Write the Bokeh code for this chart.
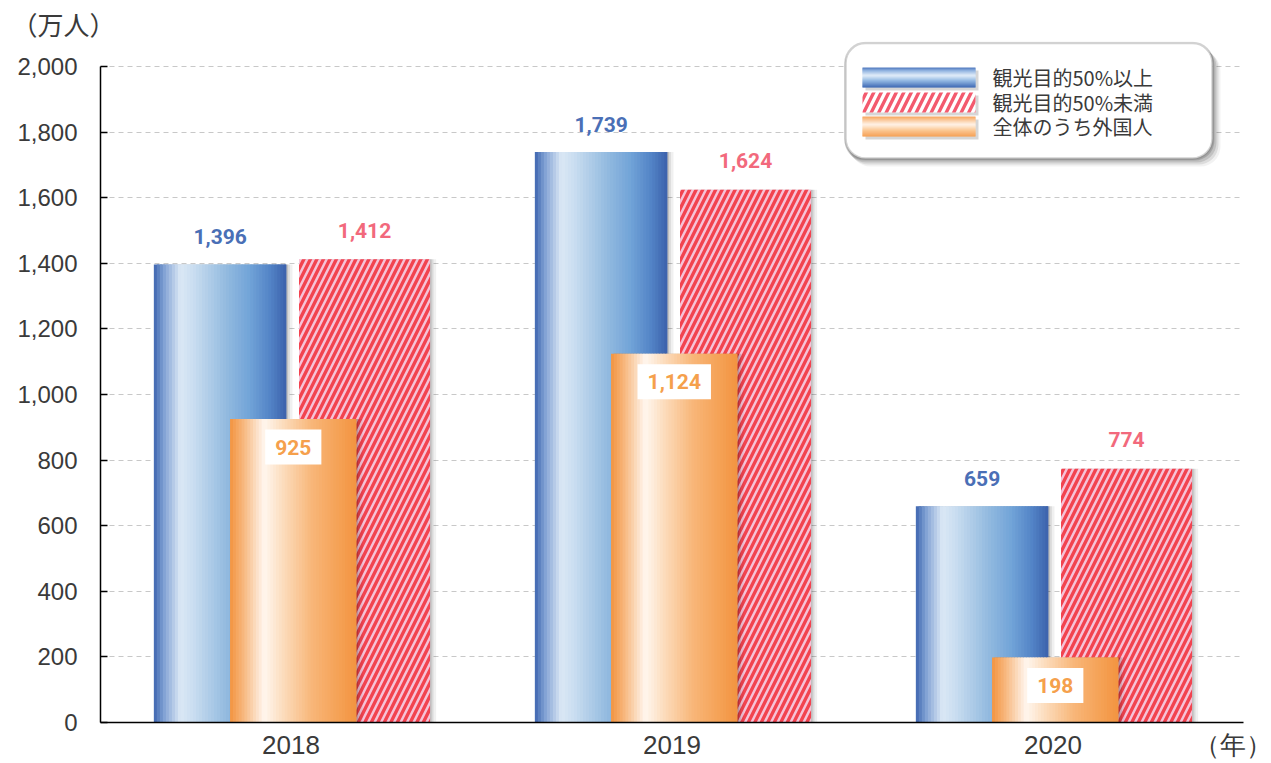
from bokeh.plotting import figure
from bokeh.models import (ColumnDataSource, Range1d, FixedTicker, NumeralTickFormatter,
                          BoxAnnotation, Label, Title)
from bokeh.transform import dodge
from bokeh.core.properties import value
from bokeh.embed import file_html
from bokeh.resources import INLINE

# ---------------- data ----------------
years = ["2018", "2019", "2020"]
tourism_50_plus = [1396, 1739, 659]      # 観光目的50%以上
tourism_50_minus = [1412, 1624, 774]     # 観光目的50%未満
foreigners = [925, 1124, 198]            # 全体のうち外国人
series_names = ["観光目的50%以上", "観光目的50%未満", "全体のうち外国人"]
y_ticks = [0, 200, 400, 600, 800, 1000, 1200, 1400, 1600, 1800, 2000]
y_unit = "（万人）"
x_unit = "（年）"

# ---------------- styles ----------------
BLUE_STOPS = [(0.0, "#3e65af"), (0.07, "#7c9ed2"), (0.2, "#dbe8f5"), (0.3, "#c9ddf0"),
              (0.55, "#92badf"), (0.72, "#72a4d8"), (0.88, "#5283c6"), (1.0, "#3c61ac")]
ORANGE_STOPS = [(0.0, "#f39440"), (0.1, "#f7b57a"), (0.27, "#fff6ef"), (0.42, "#fcdcbc"),
                (0.65, "#f8b678"), (0.85, "#f5a257"), (1.0, "#f39440")]
BLUE_V_STOPS = [(0.0, "#4a73bb"), (0.15, "#8fb2e0"), (0.4, "#e3eef9"), (0.65, "#94bae4"),
                (1.0, "#3f68b3")]
ORANGE_V_STOPS = [(0.0, "#f6a35a"), (0.15, "#fac493"), (0.4, "#fff3e8"), (0.7, "#fbc690"),
                  (1.0, "#f6a056")]
RED_BG = "#f6c3d8"
RED_HATCH = "#f2434f"
BLUE_TXT = "#4a6fb6"
RED_TXT = "#f2697c"
ORANGE_TXT = "#f5a04c"
TXT = "#3a3a3a"

# pixel layout of the frame
FRAME_L, FRAME_R, FRAME_T, FRAME_B = 100, 1243, 41, 722
PX_2000 = 66                                   # pixel row of the 2,000 gridline
Y_TOP = 2000 * (FRAME_B - FRAME_T) / (FRAME_B - PX_2000)


def _rgb(h):
    return tuple(int(h[i:i + 2], 16) for i in (1, 3, 5))


def grad(stops, t):
    for (t0, c0), (t1, c1) in zip(stops, stops[1:]):
        if t0 <= t <= t1:
            f = (t - t0) / (t1 - t0) if t1 > t0 else 0.0
            a, b = _rgb(c0), _rgb(c1)
            return "#%02x%02x%02x" % tuple(round(a[j] + (b[j] - a[j]) * f) for j in range(3))
    return stops[-1][1]


x_pos = [i + 0.5 for i in range(len(years))]
src = ColumnDataSource(dict(
    x=x_pos,
    year=years,
    plus=tourism_50_plus,
    minus=tourism_50_minus,
    foreign=foreigners,
    plus_txt=[f"{v:,}" for v in tourism_50_plus],
    minus_txt=[f"{v:,}" for v in tourism_50_minus],
    foreign_txt=[f"{v:,}" for v in foreigners],
))

W, H = 1271, 762
p = figure(x_range=Range1d(0, len(years)), y_range=Range1d(0, Y_TOP),
           width=W, height=H, output_backend="svg", toolbar_location=None,
           min_border_left=FRAME_L, min_border_right=W - FRAME_R,
           min_border_top=FRAME_T, min_border_bottom=H - FRAME_B)
p.background_fill_color = "white"
p.border_fill_color = "white"
p.outline_line_color = None

# y axis
p.yaxis.ticker = FixedTicker(ticks=y_ticks)
p.yaxis.bounds = (0, 2000)
p.yaxis.formatter = NumeralTickFormatter(format="0,0")
p.yaxis.major_label_text_font = "Liberation Sans"
p.yaxis.major_label_text_font_size = "24px"
p.yaxis.major_label_text_color = TXT
p.yaxis.major_label_standoff = 23
p.yaxis.major_tick_in = 7
p.yaxis.major_tick_out = 0
p.yaxis.major_tick_line_color = "black"
p.yaxis.major_tick_line_width = 1.5
p.yaxis.minor_tick_line_color = None
p.yaxis.axis_line_color = "black"
p.yaxis.axis_line_width = 1.5

# x axis: category labels + unit label at the right end
x_tick_vals = x_pos + [len(years)]
overrides = {x: y for x, y in zip(x_pos, years)}
overrides[len(years)] = x_unit
p.xaxis.ticker = FixedTicker(ticks=x_tick_vals)
p.xaxis.major_label_overrides = overrides
p.xaxis.major_label_text_font = "Liberation Sans"
p.xaxis.major_label_text_font_size = "26px"
p.xaxis.major_label_text_color = TXT
p.xaxis.major_label_standoff = 1
p.xaxis.major_tick_line_color = None
p.xaxis.minor_tick_line_color = None
p.xaxis.axis_line_color = "black"
p.xaxis.axis_line_width = 1.5

p.xgrid.grid_line_color = None
p.ygrid.ticker = FixedTicker(ticks=y_ticks)
p.ygrid.grid_line_color = "#c8c8c8"
p.ygrid.grid_line_dash = "5 4"
p.ygrid.grid_line_width = 1

# y unit label
p.add_layout(Title(text=y_unit, align="left", offset=-89, standoff=0, vertical_align="bottom",
                   text_font="Noto Sans CJK JP", text_font_size="26px",
                   text_font_style="normal", text_color=TXT), "above")

# bar geometry (category units)
B_C, B_W = -0.186, 0.348
R_C, R_W = 0.193, 0.344
O_C, O_W = 0.006, 0.332
N = 44


def shadow(field, center, width):
    for dx, a in [(0.004, 0.12), (0.009, 0.09), (0.016, 0.06)]:
        p.vbar(x=dodge("x", center + dx), top=field, width=width,
               source=src, fill_color="black", fill_alpha=a, line_color=None)


def gradient_bar(field, center, width, stops):
    left = center - width / 2
    step = width / N
    for k in range(N):
        l = left + k * step
        r = min(left + (k + 1.8) * step, left + width)
        p.vbar(x=dodge("x", (l + r) / 2), top=field, width=r - l,
               source=src, fill_color=grad(stops, (k + 0.5) / N), line_color=None)


shadow("plus", B_C, B_W)
gradient_bar("plus", B_C, B_W, BLUE_STOPS)

shadow("minus", R_C, R_W)
p.vbar(x=dodge("x", R_C), top="minus", width=R_W, source=src,
       fill_color=RED_BG, line_color=None, hatch_pattern="/", hatch_color=RED_HATCH,
       hatch_scale=13, hatch_weight=3.4)

shadow("foreign", O_C, O_W)
gradient_bar("foreign", O_C, O_W, ORANGE_STOPS)

# value labels
LBL = dict(text_align="center", text_baseline="middle", text_font=value("Roboto"),
           text_font_style="bold", text_font_size="21px")
p.text(x=dodge("x", B_C), y="plus", text="plus_txt", source=src, y_offset=-28,
       text_color=BLUE_TXT, **LBL)
p.text(x=dodge("x", R_C), y="minus", text="minus_txt", source=src, y_offset=-29,
       text_color=RED_TXT, **LBL)
p.text(x=dodge("x", O_C), y="foreign", text="foreign_txt", source=src, y_offset=28,
       text_color=ORANGE_TXT, background_fill_color="white", padding=10, **LBL)

# ---------------- legend (screen units, relative to frame bottom-left) ----------------
def sx(px):
    return px - FRAME_L


def sy(py):
    return FRAME_B - py


def sbox(l, r, t, b, **kw):
    box = BoxAnnotation(left=sx(l), right=sx(r), top=sy(t), bottom=sy(b), left_units="screen",
                        right_units="screen", top_units="screen", bottom_units="screen", **kw)
    p.add_layout(box)
    return box


LG_L, LG_R, LG_T, LG_B = 845, 1212, 42.5, 158
for d, a in [(8, 0.05), (6, 0.09), (4, 0.12), (2, 0.15)]:
    sbox(LG_L + d - 3, LG_R + d, LG_T + d, LG_B + d, fill_color="black", fill_alpha=a,
         line_color=None, border_radius=20)
sbox(LG_L, LG_R, LG_T, LG_B, fill_color="white", fill_alpha=1, line_color="#6a6a6a",
     line_width=2.5, border_radius=20)

SW_L, SW_R = 862, 975
rows = [(67, 87), (92, 112), (116, 136)]
for (t, b) in rows:
    sbox(SW_L + 3, SW_R + 3, t + 3, b + 3, fill_color="black", fill_alpha=0.16, line_color=None)


def v_gradient_box(t, b, stops, M=20):
    h = (b - t) / M
    for k in range(M):
        top = t + k * h
        bot = min(t + (k + 1.8) * h, b)
        sbox(SW_L, SW_R, top, bot, fill_color=grad(stops, (k + 0.5) / M),
             fill_alpha=1, line_color=None)


v_gradient_box(rows[0][0], rows[0][1], BLUE_V_STOPS)
sbox(SW_L, SW_R, rows[1][0], rows[1][1], fill_color="white", fill_alpha=1, line_color=None,
     hatch_pattern="/", hatch_color="#f35a6e", hatch_scale=15, hatch_weight=3.4)
v_gradient_box(rows[2][0], rows[2][1], ORANGE_V_STOPS)

for (t, b), name in zip(rows, series_names):
    p.add_layout(Label(x=sx(992), y=sy((t + b) / 2), x_units="screen", y_units="screen",
                       text=name, text_align="left", text_baseline="middle",
                       text_font="Noto Sans CJK JP", text_font_size="20px",
                       text_color=TXT))

open("out.html", "w").write(file_html(p, INLINE))
